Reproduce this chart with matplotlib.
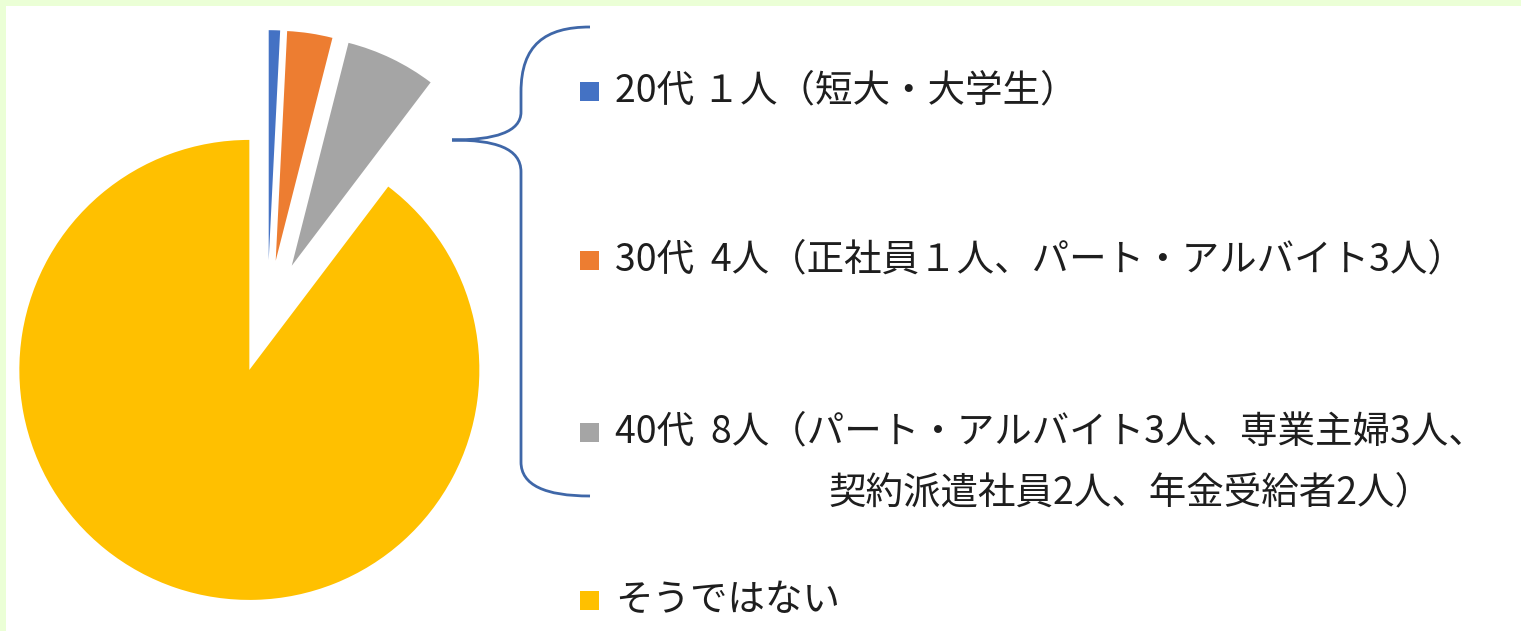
import numpy as np
import matplotlib
import matplotlib.pyplot as plt
from matplotlib.path import Path
from matplotlib.patches import PathPatch, Rectangle

matplotlib.use('agg')
plt.rcParams['font.family'] = ['Noto Sans CJK JP', 'DejaVu Sans']

# data
labels = ['20代', '30代', '40代', 'そうではない']
counts = [1, 4, 8, 113]
colors = ['#4472C4', '#ED7D31', '#A5A5A5', '#FFC000']
legend_lines = ['20代 １人（短大・大学生）',
                '30代  4人（正社員１人、パート・アルバイト3人）',
                '40代  8人（パート・アルバイト3人、専業主婦3人、',
                '契約派遣社員2人、年金受給者2人）',
                'そうではない']

W, H = 1521, 631
fig = plt.figure(figsize=(W/100, H/100), dpi=100)
fig.patch.set_facecolor('white')

# pie axes: 230 px per unit, pie centre at pixel (267, 316)
scale = 230.0
cx, cy = 267.3, 316.5
ax = fig.add_axes([0, 0, 1, 1])
ax.pie(counts, colors=colors, startangle=90, counterclock=False,
       explode=[0.245]*len(counts), radius=1,
       wedgeprops=dict(linewidth=0))
ax.set_aspect('auto')
ax.set_xlim(-cx/scale, (W-cx)/scale)
ax.set_ylim(-(H-cy)/scale, cy/scale)
ax.axis('off')

# overlay in pixel coordinates for legend text and brace
ov = fig.add_axes([0, 0, 1, 1])
ov.set_xlim(0, W)
ov.set_ylim(H, 0)
ov.axis('off')
ov.patch.set_visible(False)

# light green frame on top and left
ov.add_patch(Rectangle((0, 0), W, 6, color='#EBFFD6', lw=0))
ov.add_patch(Rectangle((0, 0), 6, H, color='#EBFFD6', lw=0))

# brace
verts = [(590, 27), (545, 27), (521, 45), (521, 92),
         (521, 112),
         (521, 132), (495, 140), (452, 140),
         (495, 140), (521, 148), (521, 172),
         (521, 462),
         (521, 485), (545, 496), (590, 496)]
codes = [Path.MOVETO, Path.CURVE4, Path.CURVE4, Path.CURVE4,
         Path.LINETO,
         Path.CURVE4, Path.CURVE4, Path.CURVE4,
         Path.CURVE4, Path.CURVE4, Path.CURVE4,
         Path.LINETO,
         Path.CURVE4, Path.CURVE4, Path.CURVE4]
ov.add_patch(PathPatch(Path(verts, codes), fill=False, edgecolor='#3F67A8', lw=2))

# legend entries
rows = [91, 260, 432, 600]
for color, y in zip(colors, rows):
    ov.add_patch(Rectangle((580, y-9), 19, 19, color=color, lw=0))

fs = 27
txt = dict(fontsize=fs, color='#1E1E1E', va='center', ha='left')
ov.text(615, rows[0], legend_lines[0], **txt)
ov.text(615, rows[1], legend_lines[1], **txt)
ov.text(615, rows[2], legend_lines[2], **txt)
ov.text(828, 493, legend_lines[3], **txt)
ov.text(615, rows[3], legend_lines[4], **txt)

plt.savefig('out.png', dpi=100)
